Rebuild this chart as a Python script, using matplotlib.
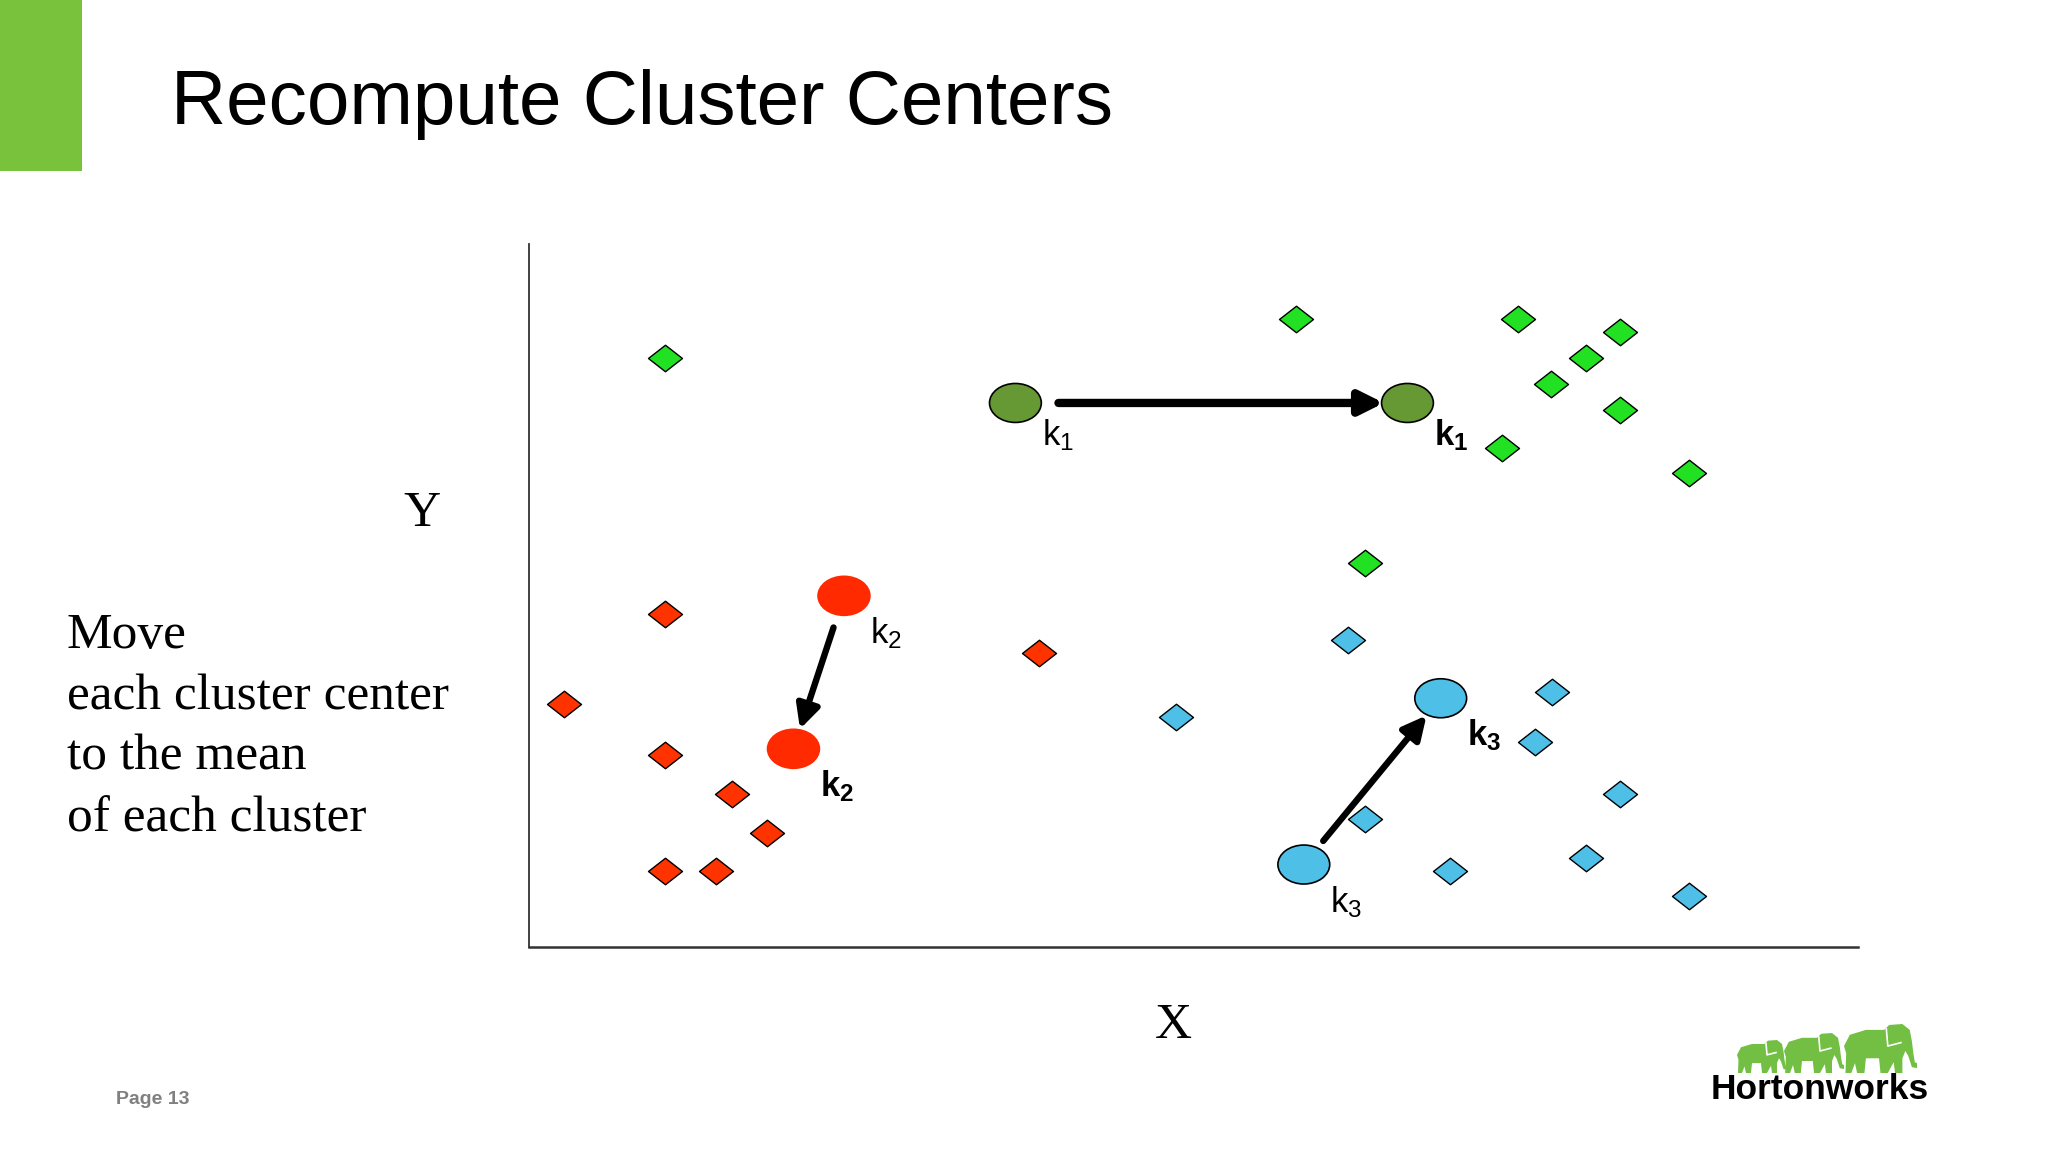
import matplotlib
matplotlib.use('Agg')
import matplotlib.pyplot as plt
from matplotlib.path import Path
from matplotlib.patches import Ellipse, Polygon, Rectangle
import numpy as np

plt.rcParams['mathtext.fontset'] = 'custom'
plt.rcParams['mathtext.rm'] = 'Liberation Sans'
plt.rcParams['mathtext.it'] = 'Liberation Sans:italic'
plt.rcParams['mathtext.bf'] = 'Liberation Sans:bold'

# DATA (x 0..10, y 0..5.3 on the plot)
green_x = [1.02, 5.77, 7.44, 8.21, 7.95, 7.69, 8.21, 7.32, 8.73, 6.29]
green_y = [4.43, 4.72, 4.72, 4.62, 4.43, 4.23, 4.04, 3.75, 3.56, 2.89]

red_x = [1.02, 0.26, 1.02, 1.53, 1.79, 1.02, 1.41, 3.84]
red_y = [2.50, 1.83, 1.44, 1.15, 0.86, 0.57, 0.57, 2.21]

blue_x = [6.16, 4.87, 7.70, 7.57, 8.21, 6.29, 7.95, 6.93, 8.73]
blue_y = [2.31, 1.73, 1.92, 1.54, 1.15, 0.96, 0.67, 0.57, 0.38]

# cluster centers: old position -> new position
center_names = ['1', '2', '3']
old_x = [3.66, 2.37, 5.83]
old_y = [4.09, 2.64, 0.62]
new_x = [6.61, 1.99, 6.86]
new_y = [4.09, 1.49, 1.87]

left_lines = ['Move', 'each cluster center', 'to the mean', 'of each cluster']

# styles
diamond_colors = ['#22e022', '#ff3300', '#4ec0e8']
center_colors = ['#669933', '#ff2a00', '#4ec0e8']
center_edges = ['black', '#ff2a00', 'black']
arrow_lw = [6.0, 4.6, 4.6]
shrink_a = [31, 24, 22]
shrink_b = [17, 15, 16]
label_dy = [-10, -14, -14]

W, H = 2048, 1153
fig = plt.figure(figsize=(W / 100, H / 100), dpi=100)
fig.patch.set_facecolor('white')

# background layer in pixel coordinates
bg = fig.add_axes([0, 0, 1, 1])
bg.set_xlim(0, W)
bg.set_ylim(H, 0)
bg.axis('off')

bg.add_patch(Rectangle((0, 0), 82, 171, color='#79c23c', lw=0))
bg.text(171, 124, 'Recompute Cluster Centers', fontsize=55,
        family='Liberation Sans', va='baseline', ha='left')

for i, line in enumerate(left_lines):
    bg.text(67, 648 + i * 61, line, fontsize=37, family='Liberation Serif',
            va='baseline', ha='left')

bg.text(422, 514, 'Y', fontsize=37, family='Liberation Serif', ha='center', va='center')
bg.text(1173, 1026, 'X', fontsize=37, family='Liberation Serif', ha='center', va='center')

bg.text(116, 1100, 'Page 13', fontsize=14, family='Liberation Sans',
        weight='bold', color='#808080', ha='left', va='center')

# Hortonworks logo
bg.text(1820, 1099, 'Hortonworks', fontsize=25.5, family='Liberation Sans',
        weight='bold', ha='center', va='baseline')

elephant = np.array([
    (0.00, 0.55), (0.08, 0.78), (0.30, 0.88), (0.55, 0.88), (0.62, 0.98),
    (0.80, 1.00), (0.90, 0.88), (0.93, 0.65), (0.95, 0.40), (0.97, 0.22),
    (1.00, 0.20), (1.00, 0.10), (0.93, 0.12), (0.88, 0.35), (0.84, 0.45),
    (0.80, 0.30), (0.80, 0.00), (0.70, 0.00), (0.68, 0.22), (0.60, 0.00),
    (0.50, 0.00), (0.48, 0.30), (0.30, 0.30), (0.28, 0.00), (0.18, 0.00),
    (0.15, 0.20), (0.10, 0.00), (0.02, 0.00), (0.03, 0.40)])
ear = np.array([(0.58, 0.90), (0.60, 0.55), (0.78, 0.62)])
for x0, w, h in [(1737, 50, 33), (1784, 60, 40), (1844, 73, 49)]:
    pts = np.column_stack([x0 + elephant[:, 0] * w, 1073 - elephant[:, 1] * h])
    bg.add_patch(Polygon(pts, closed=True, color='#72bf44', lw=0))
    ep = np.column_stack([x0 + ear[:, 0] * w, 1073 - ear[:, 1] * h])
    bg.plot(ep[:, 0], ep[:, 1], color='white', lw=1.2)

# the plot itself
ax = fig.add_axes([529 / W, 1 - 947 / H, (1858 - 529) / W, (947 - 244) / H])
ax.set_xlim(0, 10)
ax.set_ylim(0, 5.285)
ax.set_facecolor('none')
for s in ['top', 'right']:
    ax.spines[s].set_visible(False)
ax.spines['left'].set_color('#333333')
ax.spines['bottom'].set_color('#333333')
ax.spines['left'].set_linewidth(1.3)
ax.spines['bottom'].set_linewidth(1.8)
ax.set_xticks([])
ax.set_yticks([])

diamond = Path([(-1, 0), (0, 0.78), (1, 0), (0, -0.78), (-1, 0)], closed=True)
for xs, ys, c in zip([green_x, red_x, blue_x], [green_y, red_y, blue_y], diamond_colors):
    ax.scatter(xs, ys, s=600, marker=diamond, c=c, edgecolors='black',
               linewidths=1.0, zorder=3)

for i, name in enumerate(center_names):
    for (cx, cy) in [(old_x[i], old_y[i]), (new_x[i], new_y[i])]:
        ax.add_patch(Ellipse((cx, cy), 0.39, 0.293, facecolor=center_colors[i],
                             edgecolor=center_edges[i], lw=1.2, zorder=4))
    ax.annotate('', xy=(new_x[i], new_y[i]), xytext=(old_x[i], old_y[i]),
                arrowprops=dict(arrowstyle='-|>,head_length=0.7,head_width=0.35',
                                mutation_scale=20, color='black', lw=arrow_lw[i],
                                shrinkA=shrink_a[i], shrinkB=shrink_b[i]),
                zorder=5)
    ax.annotate(r'$\mathrm{k_%s}$' % name, xy=(old_x[i], old_y[i]),
                xytext=(19, label_dy[i]), textcoords='offset points',
                fontsize=25, ha='left', va='top', zorder=6)
    ax.annotate(r'$\mathbf{k_%s}$' % name, xy=(new_x[i], new_y[i]),
                xytext=(19, label_dy[i]), textcoords='offset points',
                fontsize=25, ha='left', va='top', zorder=6)

fig.savefig('out.png', dpi=100, facecolor='white')
